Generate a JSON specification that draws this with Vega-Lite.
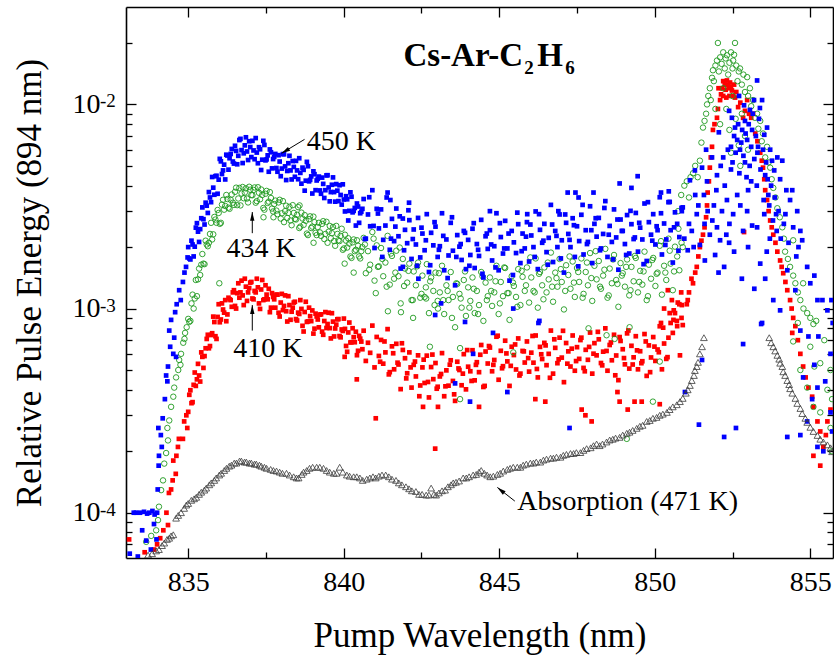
{
"$schema": "https://vega.github.io/schema/vega-lite/v6.json",
"width": 707, "height": 551,
"autosize": {"type": "none"},
"padding": {"left": 126, "top": 7, "right": 1, "bottom": 97},
"background": "white",
"config": {"view": {"stroke": null}, "font": "Liberation Serif",
 "axis": {"grid": false, "domainColor": "black", "tickColor": "black", "labelColor": "black", "titleColor": "black", "labelFont": "Liberation Serif", "titleFont": "Liberation Serif", "labelFontSize": 28, "titleFontSize": 35, "titleFontWeight": "normal", "tickWidth": 1.3, "domainWidth": 1.6, "labelFlush": false, "labelOverlap": false}},
"resolve": {"axis": {"x": "independent", "y": "independent"}},
"datasets": {
"blue": [{"x":833.12,"y":6.3e-5},{"x":833.25,"y":1.0e-4},{"x":833.32,"y":1.0e-4},{"x":833.38,"y":6.1e-5},{"x":833.45,"y":1.0e-4},{"x":833.52,"y":8.2e-5},{"x":833.58,"y":1.01e-4},{"x":833.65,"y":7.3e-5},{"x":833.68,"y":9.9e-5},{"x":833.75,"y":1.0e-4},{"x":833.8,"y":6.6e-5},{"x":833.85,"y":1.02e-4},{"x":833.92,"y":9.8e-5},{"x":833.98,"y":7.4e-5},{"x":834.0,"y":1.0e-4},{"x":833.9,"y":8.8e-5},
{"x":834.02,"y":1.3e-4},{"x":834.05,"y":1.7e-4},{"x":834.06,"y":1.9e-4},{"x":834.04,"y":2.6e-4},{"x":834.12,"y":2.4e-4},{"x":834.15,"y":2.1e-4},{"x":834.18,"y":2.9e-4},{"x":834.25,"y":3.6e-4},{"x":834.29,"y":4.7e-4},{"x":834.33,"y":4.4e-4},{"x":834.35,"y":5.2e-4},{"x":834.39,"y":7.8e-4},{"x":834.42,"y":6.5e-4},{"x":834.45,"y":8.8e-4},{"x":834.52,"y":6.0e-4},{"x":834.55,"y":7.2e-4},{"x":834.61,"y":5.8e-4},{"x":834.58,"y":9.6e-4},{"x":834.63,"y":1.05e-3},{"x":834.71,"y":1.23e-3},{"x":834.76,"y":1.1e-3},{"x":834.83,"y":1.35e-3},{"x":834.88,"y":1.5e-3},{"x":834.93,"y":1.6e-3},{"x":834.98,"y":1.78e-3},
{"x":835.0,"y":2.0e-3},{"x":835.07,"y":1.74e-3},{"x":835.14,"y":2.06e-3},{"x":835.21,"y":2.01e-3},{"x":835.28,"y":2.62e-3},{"x":835.35,"y":2.12e-3},{"x":835.42,"y":2.77e-3},{"x":835.49,"y":2.74e-3},{"x":835.56,"y":3.3e-3},{"x":835.63,"y":2.94e-3},{"x":835.7,"y":3.5e-3},{"x":835.77,"y":4.41e-3},{"x":835.84,"y":3.61e-3},{"x":835.91,"y":4.47e-3},{"x":835.98,"y":4.28e-3},{"x":836.05,"y":5.26e-3},{"x":836.12,"y":4.75e-3},{"x":836.19,"y":4.29e-3},{"x":836.26,"y":5.62e-3},{"x":836.33,"y":5.45e-3},{"x":836.4,"y":6.05e-3},{"x":836.47,"y":5.13e-3},{"x":836.54,"y":5.92e-3},{"x":836.61,"y":5.6e-3},{"x":836.68,"y":6.78e-3},{"x":836.75,"y":5.16e-3},{"x":836.82,"y":6.3e-3},{"x":836.89,"y":5.88e-3},{"x":836.96,"y":6.6e-3},{"x":837.03,"y":5.52e-3},{"x":837.1,"y":5.95e-3},{"x":837.17,"y":6.84e-3},{"x":837.24,"y":5.15e-3},{"x":837.31,"y":6.03e-3},{"x":837.38,"y":5.36e-3},{"x":837.45,"y":6.33e-3},{"x":837.52,"y":5.38e-3},{"x":837.59,"y":4.68e-3},{"x":837.66,"y":5.83e-3},{"x":837.73,"y":5.4e-3},{"x":837.8,"y":5.72e-3},{"x":837.87,"y":4.68e-3},{"x":837.94,"y":5.25e-3},{"x":838.01,"y":4.85e-3},{"x":838.08,"y":5.7e-3},{"x":838.15,"y":4.26e-3},{"x":838.22,"y":5.15e-3},{"x":838.29,"y":4.75e-3},{"x":838.36,"y":5.28e-3},{"x":838.43,"y":4.42e-3},{"x":838.5,"y":4.75e-3},{"x":838.57,"y":5.45e-3},{"x":838.64,"y":4.09e-3},{"x":838.71,"y":4.78e-3},{"x":838.78,"y":4.23e-3},{"x":838.85,"y":4.98e-3},{"x":838.92,"y":4.27e-3},{"x":838.99,"y":3.66e-3},{"x":839.06,"y":4.55e-3},{"x":839.13,"y":4.24e-3},{"x":839.2,"y":4.43e-3},{"x":839.27,"y":3.65e-3},{"x":839.34,"y":4.08e-3},{"x":839.41,"y":3.8e-3},{"x":839.48,"y":4.5e-3},{"x":839.55,"y":3.35e-3},{"x":839.62,"y":4.04e-3},{"x":839.69,"y":3.72e-3},{"x":839.76,"y":4.07e-3},{"x":839.83,"y":3.36e-3},{"x":839.9,"y":3.6e-3},{"x":839.97,"y":4.06e-3},{"x":840.04,"y":2.99e-3},{"x":840.11,"y":3.43e-3},{"x":840.18,"y":3.01e-3},{"x":840.25,"y":3.53e-3},{"x":840.32,"y":3.01e-3},{"x":840.39,"y":2.55e-3},{"x":840.46,"y":3.16e-3},{"x":840.53,"y":2.93e-3},{"x":840.6,"y":3.08e-3},
{"x":835.035,"y":1.76e-3},{"x":835.105,"y":2.15e-3},{"x":835.175,"y":1.8e-3},{"x":835.245,"y":2.49e-3},{"x":835.315,"y":2.38e-3},{"x":835.385,"y":2.45e-3},{"x":835.455,"y":3.13e-3},{"x":835.525,"y":2.58e-3},{"x":835.595,"y":3.19e-3},{"x":835.665,"y":3.72e-3},{"x":835.735,"y":3.32e-3},{"x":835.805,"y":3.91e-3},{"x":835.875,"y":4.45e-3},{"x":835.945,"y":3.65e-3},{"x":836.015,"y":5.41e-3},{"x":836.085,"y":4.56e-3},{"x":836.155,"y":5.07e-3},{"x":836.225,"y":5.67e-3},{"x":836.295,"y":4.79e-3},{"x":836.365,"y":5.72e-3},{"x":836.435,"y":5.25e-3},{"x":836.505,"y":6.27e-3},{"x":836.575,"y":5.09e-3},{"x":836.645,"y":6.69e-3},{"x":836.715,"y":5.97e-3},{"x":836.785,"y":5.76e-3},{"x":836.855,"y":6.9e-3},{"x":836.925,"y":5.34e-3},{"x":836.995,"y":6.18e-3},{"x":837.065,"y":6.63e-3},{"x":837.135,"y":5.39e-3},{"x":837.205,"y":5.81e-3},{"x":837.275,"y":6.17e-3},{"x":837.345,"y":4.77e-3},{"x":837.415,"y":6.63e-3},{"x":837.485,"y":5.32e-3},{"x":837.555,"y":5.63e-3},{"x":837.625,"y":6.02e-3},{"x":837.695,"y":4.86e-3},{"x":837.765,"y":5.53e-3},{"x":837.835,"y":4.88e-3},{"x":837.905,"y":5.64e-3},{"x":837.975,"y":4.45e-3},{"x":838.045,"y":5.71e-3},{"x":838.115,"y":4.97e-3},{"x":838.185,"y":4.72e-3},{"x":838.255,"y":5.6e-3},{"x":838.325,"y":4.29e-3},{"x":838.395,"y":4.94e-3},{"x":838.465,"y":5.29e-3},{"x":838.535,"y":4.3e-3},{"x":838.605,"y":4.62e-3},{"x":838.675,"y":4.9e-3},{"x":838.745,"y":3.78e-3},{"x":838.815,"y":5.23e-3},{"x":838.885,"y":4.2e-3},{"x":838.955,"y":4.44e-3},{"x":839.025,"y":4.7e-3},{"x":839.095,"y":3.8e-3},{"x":839.165,"y":4.32e-3},{"x":839.235,"y":3.79e-3},{"x":839.305,"y":4.38e-3},{"x":839.375,"y":3.48e-3},{"x":839.445,"y":4.49e-3},{"x":839.515,"y":3.92e-3},{"x":839.585,"y":3.72e-3},{"x":839.655,"y":4.39e-3},{"x":839.725,"y":3.34e-3},{"x":839.795,"y":3.78e-3},{"x":839.865,"y":4.02e-3},{"x":839.935,"y":3.23e-3},{"x":840.005,"y":3.42e-3},{"x":840.075,"y":3.55e-3},{"x":840.145,"y":2.7e-3},{"x":840.215,"y":3.71e-3},{"x":840.285,"y":2.96e-3},{"x":840.355,"y":3.11e-3},{"x":840.425,"y":3.27e-3},{"x":840.495,"y":2.63e-3},{"x":840.565,"y":2.98e-3},
{"x":840.64,"y":3.44e-3},{"x":840.71,"y":2.2e-3},{"x":840.78,"y":2.89e-3},{"x":840.85,"y":2.53e-3},{"x":840.92,"y":3.8e-3},{"x":840.99,"y":1.98e-3},{"x":841.06,"y":3.08e-3},
{"x":841.13,"y":2.47e-3},{"x":841.2,"y":3.06e-3},{"x":841.27,"y":2.17e-3},{"x":841.34,"y":2.55e-3},{"x":841.41,"y":3.7e-3},{"x":841.48,"y":1.94e-3},{"x":841.55,"y":2.75e-3},
{"x":841.62,"y":2.14e-3},{"x":841.69,"y":3.09e-3},{"x":841.76,"y":2.26e-3},{"x":841.83,"y":1.57e-3},{"x":841.9,"y":2.76e-3},{"x":841.97,"y":2.43e-3},{"x":842.04,"y":2.09e-3},
{"x":842.11,"y":2.71e-3},{"x":842.18,"y":1.75e-3},{"x":842.25,"y":2.44e-3},{"x":842.32,"y":2.06e-3},{"x":842.39,"y":2.78e-3},{"x":842.46,"y":1.78e-3},{"x":842.53,"y":2.33e-3},
{"x":842.6,"y":1.93e-3},{"x":842.67,"y":2.9e-3},{"x":842.74,"y":1.51e-3},{"x":842.81,"y":2.35e-3},{"x":842.88,"y":2.04e-3},{"x":842.95,"y":2.52e-3},{"x":843.02,"y":1.79e-3},
{"x":843.09,"y":2.02e-3},{"x":843.16,"y":2.93e-3},{"x":843.23,"y":1.54e-3},{"x":843.3,"y":2.18e-3},{"x":843.37,"y":1.82e-3},{"x":843.44,"y":2.63e-3},{"x":843.51,"y":1.92e-3},
{"x":843.58,"y":1.3e-3},{"x":843.65,"y":2.29e-3},{"x":843.72,"y":2.01e-3},{"x":843.79,"y":1.73e-3},{"x":843.86,"y":2.4e-3},{"x":843.93,"y":1.56e-3},{"x":844.0,"y":2.17e-3},
{"x":844.07,"y":1.83e-3},{"x":844.14,"y":2.46e-3},{"x":844.21,"y":1.58e-3},{"x":844.28,"y":2.07e-3},{"x":844.35,"y":1.81e-3},{"x":844.42,"y":2.72e-3},{"x":844.49,"y":1.42e-3},
{"x":844.56,"y":2.26e-3},{"x":844.63,"y":1.96e-3},{"x":844.7,"y":2.42e-3},{"x":844.77,"y":1.72e-3},{"x":844.84,"y":2.02e-3},{"x":844.91,"y":2.93e-3},{"x":844.98,"y":1.54e-3},
{"x":845.05,"y":2.24e-3},{"x":845.12,"y":1.86e-3},{"x":845.19,"y":2.69e-3},{"x":845.26,"y":1.97e-3},{"x":845.33,"y":1.37e-3},{"x":845.4,"y":2.4e-3},{"x":845.47,"y":2.11e-3},
{"x":845.54,"y":1.87e-3},{"x":845.61,"y":2.59e-3},{"x":845.68,"y":1.67e-3},{"x":845.75,"y":2.33e-3},{"x":845.82,"y":1.97e-3},{"x":845.89,"y":2.65e-3},{"x":845.96,"y":1.7e-3},
{"x":846.03,"y":2.28e-3},{"x":846.1,"y":2.0e-3},{"x":846.17,"y":2.99e-3},{"x":846.24,"y":1.56e-3},{"x":846.31,"y":2.43e-3},{"x":846.38,"y":2.1e-3},{"x":846.45,"y":2.6e-3},
{"x":846.52,"y":1.89e-3},{"x":846.59,"y":2.22e-3},{"x":846.66,"y":3.22e-3},{"x":846.73,"y":1.69e-3},{"x":846.8,"y":2.4e-3},{"x":846.87,"y":2.0e-3},{"x":846.94,"y":2.89e-3},
{"x":847.01,"y":2.16e-3},{"x":847.08,"y":1.5e-3},{"x":847.15,"y":2.63e-3},{"x":847.22,"y":2.32e-3},{"x":847.29,"y":2.0e-3},{"x":847.36,"y":2.77e-3},{"x":847.43,"y":1.79e-3},
{"x":847.5,"y":2.53e-3},{"x":847.57,"y":2.14e-3},{"x":847.64,"y":2.88e-3},{"x":847.71,"y":1.84e-3},{"x":847.78,"y":2.42e-3},{"x":847.85,"y":2.12e-3},{"x":847.92,"y":3.17e-3},
{"x":847.99,"y":1.67e-3},{"x":848.06,"y":2.6e-3},{"x":848.13,"y":2.25e-3},{"x":848.2,"y":2.78e-3},{"x":848.27,"y":1.97e-3},{"x":848.34,"y":2.32e-3},{"x":848.41,"y":3.36e-3},
{"x":848.48,"y":1.79e-3},{"x":848.55,"y":2.54e-3},{"x":848.62,"y":2.12e-3},{"x":848.69,"y":3.06e-3},{"x":848.76,"y":2.23e-3},{"x":848.83,"y":1.55e-3},{"x":848.9,"y":2.73e-3},
{"x":848.97,"y":2.4e-3},{"x":849.04,"y":2.07e-3},{"x":849.11,"y":2.87e-3},{"x":849.18,"y":1.86e-3},{"x":849.25,"y":2.59e-3},{"x":849.32,"y":2.19e-3},{"x":849.39,"y":2.94e-3},
{"x":849.46,"y":1.9e-3},{"x":849.53,"y":2.49e-3},{"x":849.6,"y":2.18e-3},{"x":849.67,"y":3.27e-3},{"x":849.74,"y":1.71e-3},{"x":849.81,"y":2.65e-3},{"x":849.88,"y":2.3e-3},
{"x":849.95,"y":2.9e-3},{"x":850.02,"y":2.06e-3},{"x":850.09,"y":2.42e-3},{"x":850.16,"y":3.51e-3},{"x":850.23,"y":1.84e-3},{"x":850.3,"y":2.61e-3},{"x":850.37,"y":2.18e-3},
{"x":850.44,"y":3.32e-3},{"x":850.51,"y":2.42e-3},{"x":850.58,"y":1.68e-3},{"x":850.65,"y":2.96e-3},{"x":850.72,"y":2.6e-3},{"x":850.79,"y":2.24e-3},{"x":850.86,"y":3.11e-3},
{"x":840.68,"y":2.19e-3},{"x":840.82,"y":3.51e-3},{"x":840.96,"y":2.54e-3},{"x":841.1,"y":2.92e-3},{"x":841.24,"y":1.79e-3},{"x":841.38,"y":3.5e-3},{"x":841.52,"y":2.2e-3},{"x":841.66,"y":2.52e-3},{"x":841.8,"y":2.83e-3},{"x":841.94,"y":1.93e-3},{"x":842.08,"y":3.03e-3},{"x":842.22,"y":2.19e-3},{"x":842.36,"y":1.62e-3},{"x":842.5,"y":2.49e-3},{"x":842.64,"y":2.16e-3},{"x":842.78,"y":1.63e-3},{"x":842.92,"y":2.65e-3},{"x":843.06,"y":1.94e-3},{"x":843.2,"y":2.27e-3},{"x":843.34,"y":1.41e-3},{"x":843.48,"y":2.8e-3},{"x":843.62,"y":1.79e-3},{"x":843.76,"y":2.07e-3},{"x":843.9,"y":2.35e-3},{"x":844.04,"y":1.62e-3},{"x":844.18,"y":2.62e-3},{"x":844.32,"y":1.94e-3},{"x":844.46,"y":1.48e-3},{"x":844.6,"y":2.33e-3},{"x":844.74,"y":2.06e-3},{"x":844.88,"y":1.59e-3},{"x":845.02,"y":2.62e-3},{"x":845.16,"y":1.97e-3},{"x":845.3,"y":2.33e-3},{"x":845.44,"y":1.46e-3},{"x":845.58,"y":2.95e-3},{"x":845.72,"y":1.91e-3},{"x":845.86,"y":2.25e-3},{"x":846.0,"y":2.58e-3},{"x":846.14,"y":1.79e-3},{"x":846.28,"y":2.9e-3},{"x":846.42,"y":2.15e-3},{"x":846.56,"y":1.64e-3},{"x":846.7,"y":2.58e-3},{"x":846.84,"y":2.27e-3},{"x":846.98,"y":1.76e-3},{"x":847.12,"y":2.89e-3},{"x":847.26,"y":2.17e-3},{"x":847.4,"y":2.56e-3},{"x":847.54,"y":1.61e-3},{"x":847.68,"y":3.22e-3},{"x":847.82,"y":2.07e-3},{"x":847.96,"y":2.42e-3},{"x":848.1,"y":2.77e-3},{"x":848.24,"y":1.93e-3},{"x":848.38,"y":3.11e-3},{"x":848.52,"y":2.3e-3},{"x":848.66,"y":1.74e-3},{"x":848.8,"y":2.73e-3},{"x":848.94,"y":2.4e-3},{"x":849.08,"y":1.83e-3},{"x":849.22,"y":3.01e-3},{"x":849.36,"y":2.23e-3},{"x":849.5,"y":2.63e-3},{"x":849.64,"y":1.65e-3},{"x":849.78,"y":3.32e-3},{"x":849.92,"y":2.15e-3},{"x":850.06,"y":2.53e-3},{"x":850.2,"y":2.93e-3},{"x":850.34,"y":2.05e-3},{"x":850.48,"y":3.33e-3},{"x":850.62,"y":2.5e-3},{"x":850.76,"y":1.92e-3},{"x":850.9,"y":3.13e-3},
{"x":842.94,"y":9.3e-4},{"x":843.13,"y":1.06e-3},{"x":843.9,"y":8.6e-4},{"x":845.45,"y":1.0e-3},{"x":846.26,"y":8.5e-4},{"x":844.8,"y":7.6e-4},{"x":844.16,"y":6.0e-4},{"x":843.58,"y":4.3e-4},{"x":844.06,"y":3.5e-4},{"x":845.26,"y":3.9e-4},{"x":847.26,"y":2.6e-4},{"x":846.29,"y":8.7e-4},{"x":848.03,"y":3.7e-3},{"x":847.55,"y":3.5e-3},{"x":845.9,"y":2.9e-3},{"x":844.7,"y":3.0e-3},{"x":846.9,"y":3.0e-3},{"x":849.45,"y":4.45e-3},{"x":848.87,"y":4.1e-3},{"x":849.25,"y":3.9e-3},{"x":850.2,"y":3.7e-3},{"x":850.45,"y":3.75e-3},{"x":847.2,"y":3.7e-3},{"x":847.45,"y":3.7e-3},{"x":842.1,"y":3.3e-3},{"x":841.5,"y":3.4e-3},{"x":841.9,"y":1.6e-3},{"x":842.4,"y":1.4e-3},
{"x":851.52,"y":4.9e-3},{"x":851.84,"y":5.5e-3},{"x":851.68,"y":4.2e-3},{"x":851.58,"y":3.6e-3},{"x":851.9,"y":3.2e-3},{"x":852.0,"y":2.5e-3},{"x":852.16,"y":3.0e-3},{"x":852.32,"y":3.4e-3},{"x":852.48,"y":8.6e-3},{"x":852.58,"y":7.7e-3},{"x":852.65,"y":6.7e-3},{"x":852.74,"y":6.0e-3},{"x":852.81,"y":7.5e-3},{"x":852.9,"y":8.3e-3},{"x":852.97,"y":6.7e-3},{"x":853.06,"y":9.4e-3},{"x":853.13,"y":7.5e-3},{"x":853.19,"y":1.05e-2},{"x":853.29,"y":1.31e-2},{"x":853.35,"y":8.5e-3},{"x":853.45,"y":1.05e-2},{"x":853.52,"y":7.1e-3},{"x":853.61,"y":7.7e-3},{"x":853.71,"y":6.0e-3},{"x":853.77,"y":5.3e-3},{"x":853.84,"y":4.75e-3},{"x":853.94,"y":5.5e-3},{"x":854.03,"y":4.3e-3},{"x":854.1,"y":5.3e-3},{"x":854.23,"y":3.8e-3},{"x":854.35,"y":3.4e-3},{"x":854.42,"y":3.8e-3},{"x":854.58,"y":3.0e-3},{"x":854.68,"y":2.4e-3},{"x":854.74,"y":2.16e-3},{"x":854.9,"y":1.6e-3},{"x":855.0,"y":1.33e-3},{"x":855.13,"y":1.45e-3},{"x":855.23,"y":1.1e-3},{"x":855.39,"y":1.1e-3},{"x":855.55,"y":9.8e-4},{"x":855.68,"y":1.1e-3},{"x":855.72,"y":8.5e-4},
{"x":851.19,"y":2.4e-3},{"x":851.35,"y":2.9e-3},{"x":851.45,"y":2.05e-3},{"x":851.61,"y":1.72e-3},{"x":851.77,"y":2.3e-3},{"x":851.94,"y":1.83e-3},{"x":852.1,"y":2.16e-3},{"x":852.23,"y":1.6e-3},{"x":852.39,"y":2.1e-3},{"x":852.52,"y":2.9e-3},{"x":852.65,"y":3.6e-3},{"x":852.84,"y":2.4e-3},{"x":852.97,"y":3.0e-3},{"x":853.13,"y":2.55e-3},{"x":853.29,"y":2.5e-3},{"x":853.39,"y":1.66e-3},{"x":853.52,"y":2.9e-3},{"x":853.65,"y":3.6e-3},{"x":853.81,"y":1.1e-3},{"x":854.03,"y":9.8e-4},{"x":853.45,"y":8.5e-4},{"x":854.26,"y":1.54e-3},{"x":854.52,"y":1.23e-3},{"x":852.84,"y":6.7e-4},{"x":853.42,"y":8.4e-4},{"x":852.23,"y":2.35e-4},{"x":852.61,"y":2.6e-4},{"x":851.52,"y":5.6e-4},{"x":850.97,"y":3.9e-4},{"x":851.42,"y":2.7e-4},{"x":854.26,"y":2.35e-4},{"x":854.68,"y":2.4e-4},{"x":851.06,"y":1.93e-3},{"x":850.87,"y":3.0e-3},{"x":851.13,"y":4.25e-3},{"x":851.29,"y":4.75e-3},{"x":851.65,"y":6.0e-3},{"x":852.06,"y":7.3e-3},{"x":852.39,"y":9.3e-3},{"x":852.71,"y":1.1e-2},{"x":852.87,"y":9.9e-3},
{"x":852.0,"y":4.5e-3},{"x":852.2,"y":5.5e-3},{"x":852.45,"y":4.8e-3},{"x":852.9,"y":5.2e-3},{"x":853.1,"y":4.2e-3},{"x":853.3,"y":5.8e-3},{"x":853.55,"y":4.5e-3},{"x":853.0,"y":3.8e-3},{"x":852.55,"y":1.9e-3},{"x":853.7,"y":2.2e-3},{"x":853.9,"y":2.9e-3},{"x":854.15,"y":2.6e-3},{"x":851.85,"y":2.7e-3},{"x":851.3,"y":3.6e-3},
{"x":852.45,"y":6.2e-3},{"x":852.5,"y":5.2e-3},{"x":852.55,"y":7.0e-3},{"x":852.6,"y":5.8e-3},{"x":852.68,"y":8.0e-3},{"x":852.72,"y":4.6e-3},{"x":852.78,"y":6.5e-3},{"x":852.85,"y":5.6e-3},{"x":852.92,"y":7.2e-3},{"x":852.95,"y":4.4e-3},{"x":853.02,"y":8.0e-3},{"x":853.05,"y":5.0e-3},{"x":853.1,"y":6.2e-3},{"x":853.15,"y":9.0e-3},{"x":853.2,"y":5.4e-3},{"x":853.25,"y":7.0e-3},{"x":853.28,"y":4.0e-3},{"x":853.32,"y":6.2e-3},{"x":853.38,"y":9.6e-3},{"x":853.4,"y":4.8e-3},{"x":853.48,"y":6.0e-3},{"x":853.5,"y":3.4e-3},{"x":853.58,"y":5.2e-3},{"x":853.63,"y":4.3e-3},{"x":853.68,"y":3.2e-3},{"x":853.74,"y":4.0e-3},{"x":853.8,"y":2.7e-3},{"x":853.86,"y":3.5e-3},{"x":853.92,"y":2.4e-3},{"x":853.98,"y":3.0e-3},{"x":854.05,"y":2.2e-3},{"x":854.2,"y":2.9e-3},{"x":854.3,"y":2.1e-3},{"x":854.45,"y":2.5e-3},{"x":854.55,"y":1.8e-3},{"x":854.62,"y":2.0e-3},{"x":852.25,"y":4.0e-3},{"x":852.35,"y":6.0e-3},{"x":852.12,"y":5.0e-3},{"x":851.98,"y":3.8e-3},{"x":852.4,"y":2.6e-3},{"x":852.75,"y":3.2e-3},{"x":853.0,"y":2.0e-3},{"x":853.6,"y":1.9e-3},{"x":852.3,"y":2.3e-3},{"x":851.7,"y":3.0e-3},{"x":851.6,"y":2.6e-3},{"x":851.4,"y":3.2e-3},{"x":851.25,"y":2.0e-3},{"x":851.1,"y":2.6e-3},{"x":850.95,"y":2.2e-3},{"x":852.05,"y":1.5e-3},{"x":852.8,"y":1.4e-3},{"x":853.2,"y":1.25e-3},{"x":853.55,"y":1.4e-3},
{"x":854.68,"y":7.8e-4},{"x":854.94,"y":7.3e-4},{"x":855.26,"y":7.3e-4},{"x":855.65,"y":6.0e-4},{"x":854.77,"y":4.6e-4},{"x":855.23,"y":4.1e-4},{"x":855.65,"y":3.1e-4},{"x":855.23,"y":2.1e-4},{"x":855.42,"y":2.0e-4},{"x":855.06,"y":3.6e-4},{"x":855.48,"y":4.4e-4},{"x":855.7,"y":2.5e-4},{"x":854.9,"y":2.8e-4},{"x":855.13,"y":5.3e-4}],
"red": [{"x":833.1,"y":7.4e-5},{"x":833.6,"y":6.4e-5},{"x":833.9,"y":6.6e-5},{"x":834.0,"y":7.0e-5},{"x":834.1,"y":7.5e-5},{"x":834.2,"y":8.2e-5},{"x":834.35,"y":8.7e-5},{"x":834.3,"y":1.0e-4},{"x":834.38,"y":1.25e-4},{"x":834.45,"y":1.3e-4},{"x":834.5,"y":1.44e-4},{"x":834.6,"y":1.55e-4},{"x":834.52,"y":1.8e-4},{"x":834.62,"y":1.9e-4},{"x":834.67,"y":2.1e-4},{"x":834.7,"y":2.3e-4},{"x":834.83,"y":2.3e-4},{"x":834.87,"y":2.8e-4},{"x":834.94,"y":3.0e-4},{"x":834.97,"y":2.6e-4},
{"x":835.0,"y":3.12e-4},{"x":835.07,"y":3.98e-4},{"x":835.14,"y":3.48e-4},{"x":835.21,"y":4.86e-4},{"x":835.28,"y":4.5e-4},{"x":835.35,"y":4.7e-4},{"x":835.42,"y":6.1e-4},{"x":835.49,"y":5.12e-4},{"x":835.56,"y":6.39e-4},{"x":835.63,"y":7.44e-4},{"x":835.7,"y":6.55e-4},{"x":835.77,"y":7.57e-4},{"x":835.84,"y":8.59e-4},{"x":835.91,"y":7.1e-4},{"x":835.98,"y":1.05e-3},{"x":836.05,"y":8.84e-4},{"x":836.12,"y":9.89e-4},{"x":836.19,"y":1.1e-3},{"x":836.26,"y":9.36e-4},{"x":836.33,"y":1.11e-3},{"x":836.4,"y":1.02e-3},{"x":836.47,"y":1.23e-3},{"x":836.54,"y":1.0e-3},{"x":836.61,"y":1.33e-3},{"x":836.68,"y":1.2e-3},{"x":836.75,"y":1.16e-3},{"x":836.82,"y":1.4e-3},{"x":836.89,"y":1.09e-3},{"x":836.96,"y":1.26e-3},{"x":837.03,"y":1.35e-3},{"x":837.1,"y":1.11e-3},{"x":837.17,"y":1.2e-3},{"x":837.24,"y":1.27e-3},{"x":837.31,"y":9.96e-4},{"x":837.38,"y":1.38e-3},{"x":837.45,"y":1.11e-3},{"x":837.52,"y":1.17e-3},{"x":837.59,"y":1.25e-3},{"x":837.66,"y":1.01e-3},{"x":837.73,"y":1.14e-3},{"x":837.8,"y":1.01e-3},{"x":837.87,"y":1.17e-3},{"x":837.94,"y":9.14e-4},{"x":838.01,"y":1.18e-3},{"x":838.08,"y":1.03e-3},{"x":838.15,"y":9.7e-4},{"x":838.22,"y":1.15e-3},{"x":838.29,"y":8.81e-4},{"x":838.36,"y":1.01e-3},{"x":838.43,"y":1.08e-3},{"x":838.5,"y":8.74e-4},{"x":838.57,"y":9.41e-4},{"x":838.64,"y":9.96e-4},{"x":838.71,"y":7.72e-4},{"x":838.78,"y":1.08e-3},{"x":838.85,"y":8.65e-4},{"x":838.92,"y":9.18e-4},{"x":838.99,"y":9.79e-4},{"x":839.06,"y":7.97e-4},{"x":839.13,"y":9.15e-4},{"x":839.2,"y":8.09e-4},{"x":839.27,"y":9.37e-4},{"x":839.34,"y":7.44e-4},{"x":839.41,"y":9.61e-4},{"x":839.48,"y":8.4e-4},{"x":839.55,"y":8.02e-4},{"x":839.62,"y":9.49e-4},{"x":839.69,"y":7.3e-4},{"x":839.76,"y":8.34e-4},{"x":839.83,"y":8.88e-4},{"x":839.9,"y":7.23e-4},{"x":839.97,"y":7.77e-4},{"x":840.04,"y":7.95e-4},{"x":840.11,"y":6.14e-4},{"x":840.18,"y":8.54e-4},{"x":840.25,"y":6.84e-4},{"x":840.32,"y":7.24e-4},{"x":840.39,"y":7.7e-4},{"x":840.46,"y":6.21e-4},{"x":840.53,"y":7.12e-4},{"x":840.6,"y":6.32e-4},
{"x":835.035,"y":3.78e-4},{"x":835.105,"y":3.44e-4},{"x":835.175,"y":4.23e-4},{"x":835.245,"y":4.18e-4},{"x":835.315,"y":5.36e-4},{"x":835.385,"y":4.39e-4},{"x":835.455,"y":5.8e-4},{"x":835.525,"y":5.85e-4},{"x":835.595,"y":7.1e-4},{"x":835.665,"y":6.39e-4},{"x":835.735,"y":7.42e-4},{"x":835.805,"y":9.13e-4},{"x":835.875,"y":7.32e-4},{"x":835.945,"y":9.1e-4},{"x":836.015,"y":8.57e-4},{"x":836.085,"y":1.06e-3},{"x":836.155,"y":9.55e-4},{"x":836.225,"y":8.67e-4},{"x":836.295,"y":1.13e-3},{"x":836.365,"y":1.1e-3},{"x":836.435,"y":1.2e-3},{"x":836.505,"y":1.03e-3},{"x":836.575,"y":1.19e-3},{"x":836.645,"y":1.13e-3},{"x":836.715,"y":1.37e-3},{"x":836.785,"y":1.04e-3},{"x":836.855,"y":1.28e-3},{"x":836.925,"y":1.2e-3},{"x":836.995,"y":1.34e-3},{"x":837.065,"y":1.12e-3},{"x":837.135,"y":1.22e-3},{"x":837.205,"y":1.4e-3},{"x":837.275,"y":1.06e-3},{"x":837.345,"y":1.24e-3},{"x":837.415,"y":1.1e-3},{"x":837.485,"y":1.3e-3},{"x":837.555,"y":1.11e-3},{"x":837.625,"y":9.6e-4},{"x":837.695,"y":1.19e-3},{"x":837.765,"y":1.11e-3},{"x":837.835,"y":1.17e-3},{"x":837.905,"y":9.54e-4},{"x":837.975,"y":1.07e-3},{"x":838.045,"y":9.83e-4},{"x":838.115,"y":1.16e-3},{"x":838.185,"y":8.64e-4},{"x":838.255,"y":1.04e-3},{"x":838.325,"y":9.65e-4},{"x":838.395,"y":1.07e-3},{"x":838.465,"y":8.88e-4},{"x":838.535,"y":9.55e-4},{"x":838.605,"y":1.1e-3},{"x":838.675,"y":8.23e-4},{"x":838.745,"y":9.62e-4},{"x":838.815,"y":8.6e-4},{"x":838.885,"y":1.01e-3},{"x":838.955,"y":8.68e-4},{"x":839.025,"y":7.54e-4},{"x":839.095,"y":9.44e-4},{"x":839.165,"y":8.84e-4},{"x":839.235,"y":9.34e-4},{"x":839.305,"y":7.71e-4},{"x":839.375,"y":8.69e-4},{"x":839.445,"y":8.03e-4},{"x":839.515,"y":9.54e-4},{"x":839.585,"y":7.14e-4},{"x":839.655,"y":8.63e-4},{"x":839.725,"y":7.99e-4},{"x":839.795,"y":8.86e-4},{"x":839.865,"y":7.33e-4},{"x":839.935,"y":7.9e-4},{"x":840.005,"y":8.93e-4},{"x":840.075,"y":6.56e-4},{"x":840.145,"y":7.64e-4},{"x":840.215,"y":6.82e-4},{"x":840.285,"y":8.01e-4},{"x":840.355,"y":6.84e-4},{"x":840.425,"y":5.91e-4},{"x":840.495,"y":7.35e-4},{"x":840.565,"y":6.89e-4},
{"x":840.64,"y":7.79e-4},{"x":840.71,"y":5.54e-4},{"x":840.78,"y":6.8e-4},{"x":840.85,"y":6.07e-4},{"x":840.92,"y":8.25e-4},{"x":840.99,"y":5.15e-4},{"x":841.06,"y":7.26e-4},
{"x":841.13,"y":5.86e-4},{"x":841.2,"y":7.02e-4},{"x":841.27,"y":5.37e-4},{"x":841.34,"y":6.1e-4},{"x":841.41,"y":7.93e-4},{"x":841.48,"y":4.88e-4},{"x":841.55,"y":6.53e-4},
{"x":841.62,"y":5.04e-4},{"x":841.69,"y":6.72e-4},{"x":841.76,"y":5.32e-4},{"x":841.83,"y":4.03e-4},{"x":841.9,"y":6.27e-4},{"x":841.97,"y":5.71e-4},{"x":842.04,"y":4.82e-4},
{"x":842.11,"y":6.1e-4},{"x":842.18,"y":4.1e-4},{"x":842.25,"y":5.3e-4},{"x":842.32,"y":4.65e-4},{"x":842.39,"y":5.9e-4},{"x":842.46,"y":4.2e-4},{"x":842.53,"y":5.15e-4},
{"x":842.6,"y":4.32e-4},{"x":842.67,"y":5.88e-4},{"x":842.74,"y":3.67e-4},{"x":842.81,"y":5.17e-4},{"x":842.88,"y":4.51e-4},{"x":842.95,"y":5.41e-4},{"x":843.02,"y":4.14e-4},
{"x":843.09,"y":4.65e-4},{"x":843.16,"y":6.05e-4},{"x":843.23,"y":3.72e-4},{"x":843.3,"y":4.98e-4},{"x":843.37,"y":4.19e-4},{"x":843.44,"y":5.58e-4},{"x":843.51,"y":4.42e-4},
{"x":843.58,"y":3.53e-4},{"x":843.65,"y":5.49e-4},{"x":843.72,"y":5.0e-4},{"x":843.79,"y":4.21e-4},{"x":843.86,"y":5.98e-4},{"x":843.93,"y":4.02e-4},{"x":844.0,"y":5.19e-4},
{"x":844.07,"y":4.93e-4},{"x":844.14,"y":6.25e-4},{"x":844.21,"y":4.45e-4},{"x":844.28,"y":5.46e-4},{"x":844.35,"y":4.88e-4},{"x":844.42,"y":6.63e-4},{"x":844.49,"y":4.13e-4},
{"x":844.56,"y":6.16e-4},{"x":844.63,"y":5.38e-4},{"x":844.7,"y":6.44e-4},{"x":844.77,"y":4.93e-4},{"x":844.84,"y":5.6e-4},{"x":844.91,"y":7.28e-4},{"x":844.98,"y":4.48e-4},
{"x":845.05,"y":6.21e-4},{"x":845.12,"y":5.22e-4},{"x":845.19,"y":6.96e-4},{"x":845.26,"y":5.51e-4},{"x":845.33,"y":4.18e-4},{"x":845.4,"y":6.5e-4},{"x":845.47,"y":5.92e-4},
{"x":845.54,"y":5.03e-4},{"x":845.61,"y":7.14e-4},{"x":845.68,"y":4.8e-4},{"x":845.75,"y":6.2e-4},{"x":845.82,"y":5.44e-4},{"x":845.89,"y":6.9e-4},{"x":845.96,"y":4.91e-4},
{"x":846.03,"y":6.08e-4},{"x":846.1,"y":5.43e-4},{"x":846.17,"y":7.38e-4},{"x":846.24,"y":4.6e-4},{"x":846.31,"y":6.49e-4},{"x":846.38,"y":5.66e-4},{"x":846.45,"y":6.79e-4},
{"x":846.52,"y":5.28e-4},{"x":846.59,"y":6.0e-4},{"x":846.66,"y":7.8e-4},{"x":846.73,"y":4.8e-4},{"x":846.8,"y":6.42e-4},{"x":846.87,"y":5.4e-4},{"x":846.94,"y":7.2e-4},
{"x":847.01,"y":5.75e-4},{"x":847.08,"y":4.36e-4},{"x":847.15,"y":6.78e-4},{"x":847.22,"y":6.17e-4},{"x":847.29,"y":5.2e-4},{"x":847.36,"y":7.38e-4},{"x":847.43,"y":4.96e-4},
{"x":847.5,"y":6.47e-4},{"x":847.57,"y":5.67e-4},{"x":847.64,"y":7.2e-4},{"x":847.71,"y":5.12e-4},{"x":847.78,"y":6.28e-4},{"x":847.85,"y":5.61e-4},{"x":847.92,"y":7.63e-4},
{"x":847.99,"y":4.8e-4},{"x":848.06,"y":6.77e-4},{"x":848.13,"y":5.9e-4},{"x":848.2,"y":7.07e-4},{"x":848.27,"y":5.41e-4},{"x":848.34,"y":6.15e-4},{"x":848.41,"y":8.0e-4},
{"x":848.48,"y":4.96e-4},{"x":848.55,"y":6.63e-4},{"x":848.62,"y":5.58e-4},{"x":848.69,"y":7.44e-4},{"x":848.76,"y":5.89e-4},{"x":848.83,"y":4.46e-4},{"x":848.9,"y":6.94e-4},
{"x":848.97,"y":6.32e-4},{"x":849.04,"y":5.33e-4},{"x":849.11,"y":7.56e-4},{"x":849.18,"y":5.08e-4},{"x":849.25,"y":6.57e-4},{"x":849.32,"y":5.77e-4},{"x":849.39,"y":7.32e-4},
{"x":849.46,"y":5.04e-4},{"x":849.53,"y":6.18e-4},{"x":849.6,"y":5.52e-4},{"x":849.67,"y":7.5e-4},{"x":849.74,"y":4.68e-4},{"x":849.81,"y":6.6e-4},{"x":849.88,"y":5.76e-4},
{"x":849.95,"y":7.25e-4},{"x":850.02,"y":5.54e-4},{"x":850.09,"y":6.3e-4},{"x":850.16,"y":8.19e-4},{"x":850.23,"y":5.04e-4},{"x":850.3,"y":6.74e-4},{"x":850.37,"y":5.67e-4},
{"x":841.17,"y":5.49e-4},{"x":841.31,"y":6.9e-4},{"x":841.45,"y":4.76e-4},{"x":841.59,"y":6.04e-4},{"x":841.73,"y":5.43e-4},{"x":841.87,"y":6.76e-4},{"x":842.01,"y":4.55e-4},{"x":842.15,"y":5.15e-4},{"x":842.29,"y":5.5e-4},{"x":842.43,"y":3.72e-4},{"x":842.57,"y":5.62e-4},{"x":842.71,"y":4.37e-4},{"x":842.85,"y":5.95e-4},{"x":842.99,"y":4.05e-4},{"x":843.13,"y":4.78e-4},{"x":843.27,"y":4.16e-4},{"x":843.41,"y":5.31e-4},{"x":843.55,"y":3.8e-4},{"x":843.69,"y":5.09e-4},{"x":843.83,"y":4.8e-4},{"x":843.97,"y":6.26e-4},{"x":844.11,"y":4.42e-4},{"x":844.25,"y":5.3e-4},{"x":844.39,"y":5.94e-4},{"x":844.53,"y":4.18e-4},{"x":844.67,"y":6.55e-4},{"x":844.81,"y":5.3e-4},{"x":844.95,"y":7.36e-4},{"x":845.09,"y":5.1e-4},{"x":845.23,"y":6.03e-4},{"x":845.37,"y":5.24e-4},{"x":845.51,"y":6.67e-4},{"x":845.65,"y":4.7e-4},{"x":845.79,"y":6.17e-4},{"x":845.93,"y":5.72e-4},{"x":846.07,"y":7.34e-4},{"x":846.21,"y":5.06e-4},{"x":846.35,"y":5.97e-4},{"x":846.49,"y":6.6e-4},{"x":846.63,"y":4.58e-4},{"x":846.77,"y":7.07e-4},{"x":846.91,"y":5.64e-4},{"x":847.05,"y":7.78e-4},{"x":847.19,"y":5.37e-4},{"x":847.33,"y":6.36e-4},{"x":847.47,"y":5.53e-4},{"x":847.61,"y":7.01e-4},{"x":847.75,"y":4.93e-4},{"x":847.89,"y":6.49e-4},{"x":848.03,"y":6.01e-4},{"x":848.17,"y":7.69e-4},{"x":848.31,"y":5.27e-4},{"x":848.45,"y":6.2e-4},{"x":848.59,"y":6.82e-4},{"x":848.73,"y":4.71e-4},{"x":848.87,"y":7.25e-4},{"x":849.01,"y":5.72e-4},{"x":849.15,"y":7.81e-4},{"x":849.29,"y":5.32e-4},{"x":849.43,"y":6.24e-4},{"x":849.57,"y":5.4e-4},{"x":849.71,"y":6.9e-4},{"x":849.85,"y":4.88e-4},{"x":849.99,"y":6.51e-4},{"x":850.13,"y":6.11e-4},{"x":850.27,"y":8.06e-4},{"x":850.41,"y":5.78e-4},
{"x":840.42,"y":4.5e-4},{"x":840.03,"y":5.8e-4},{"x":841.03,"y":2.9e-4},{"x":842.94,"y":2.06e-4},{"x":842.55,"y":3.3e-4},{"x":843.03,"y":3.3e-4},{"x":844.35,"y":3.3e-4},{"x":846.16,"y":3.6e-4},{"x":846.48,"y":3.5e-4},{"x":847.65,"y":3.2e-4},{"x":847.77,"y":3.0e-4},{"x":847.97,"y":2.8e-4},{"x":849.13,"y":3.2e-4},{"x":848.87,"y":3.5e-4},{"x":849.35,"y":3.5e-4},{"x":849.58,"y":3.5e-4},{"x":850.16,"y":3.4e-4},{"x":848.8,"y":3.9e-4},{"x":850.81,"y":5.9e-4},
{"x":850.44,"y":7.2e-4},{"x":850.51,"y":8.5e-4},{"x":850.58,"y":7.6e-4},{"x":850.65,"y":9.5e-4},{"x":850.72,"y":8.2e-4},{"x":850.79,"y":1.05e-3},{"x":850.86,"y":9.0e-4},{"x":850.42,"y":1.23e-3},{"x":850.55,"y":1.1e-3},{"x":850.61,"y":9.8e-4},{"x":850.71,"y":8.7e-4},{"x":850.87,"y":1.04e-3},{"x":850.9,"y":8.3e-4},{"x":851.06,"y":1.1e-3},{"x":850.3,"y":1.0e-3},{"x":850.2,"y":8.5e-4},
{"x":850.48,"y":9.5e-4},{"x":850.6,"y":8.8e-4},{"x":850.74,"y":1.07e-3},{"x":850.85,"y":1.2e-3},{"x":851.03,"y":1.05e-3},{"x":851.1,"y":1.2e-3},{"x":851.18,"y":1.4e-3},{"x":851.23,"y":1.33e-3},{"x":851.3,"y":1.5e-3},{"x":851.35,"y":1.6e-3},{"x":851.4,"y":1.8e-3},{"x":851.45,"y":2.0e-3},{"x":851.5,"y":2.15e-3},{"x":851.55,"y":2.3e-3},{"x":851.6,"y":2.5e-3},{"x":851.65,"y":2.8e-3},{"x":851.68,"y":3.2e-3},{"x":851.7,"y":3.7e-3},{"x":851.74,"y":4.2e-3},{"x":851.77,"y":4.9e-3},{"x":851.8,"y":5.5e-3},{"x":851.84,"y":6.2e-3},{"x":851.87,"y":7.5e-3},{"x":851.92,"y":8.0e-3},{"x":852.0,"y":8.6e-3},{"x":852.03,"y":9.5e-3},{"x":852.1,"y":1.05e-2},{"x":852.13,"y":1.12e-2},{"x":852.16,"y":1.2e-2},{"x":852.2,"y":1.1e-2},{"x":852.25,"y":1.25e-2},{"x":852.32,"y":1.31e-2},{"x":852.38,"y":1.2e-2},{"x":852.42,"y":1.28e-2},{"x":852.48,"y":1.17e-2},{"x":852.52,"y":1.1e-2},{"x":852.58,"y":1.08e-2},{"x":852.62,"y":1.15e-2},{"x":852.68,"y":9.7e-3},{"x":852.75,"y":1.02e-2},{"x":852.84,"y":8.6e-3},{"x":852.9,"y":9.3e-3},{"x":852.97,"y":1.05e-2},{"x":853.03,"y":9.0e-3},
{"x":852.05,"y":1.2e-2},{"x":852.2,"y":1.3e-2},{"x":852.28,"y":1.18e-2},{"x":852.35,"y":1.25e-2},{"x":852.45,"y":1.22e-2},{"x":852.55,"y":1.25e-2},{"x":852.3,"y":1.08e-2},{"x":852.4,"y":1.1e-2},
{"x":853.1,"y":8.6e-3},{"x":853.16,"y":9.0e-3},{"x":853.23,"y":7.2e-3},{"x":853.3,"y":6.6e-3},{"x":853.39,"y":5.8e-3},{"x":853.44,"y":5.3e-3},{"x":853.48,"y":4.9e-3},{"x":853.52,"y":4.3e-3},{"x":853.55,"y":3.8e-3},{"x":853.61,"y":3.4e-3},{"x":853.66,"y":3.0e-3},{"x":853.71,"y":2.7e-3},{"x":853.76,"y":2.5e-3},{"x":853.81,"y":2.3e-3},{"x":853.88,"y":2.1e-3},{"x":853.94,"y":1.9e-3},{"x":854.03,"y":1.72e-3},{"x":854.08,"y":1.6e-3},{"x":854.13,"y":1.49e-3},{"x":854.2,"y":1.35e-3},{"x":854.26,"y":1.23e-3},{"x":854.35,"y":1.1e-3},{"x":854.4,"y":1.0e-3},{"x":854.45,"y":9.0e-4},{"x":854.42,"y":7.6e-4},{"x":854.52,"y":8.2e-4},{"x":854.6,"y":7.0e-4},{"x":854.68,"y":6.0e-4},{"x":854.77,"y":5.2e-4},{"x":854.85,"y":4.6e-4},{"x":854.94,"y":4.1e-4},{"x":855.06,"y":3.7e-4},{"x":855.1,"y":3.3e-4},{"x":855.23,"y":2.8e-4},{"x":855.32,"y":2.5e-4},{"x":855.42,"y":2.1e-4},{"x":855.32,"y":1.7e-4},{"x":855.1,"y":1.9e-4},{"x":855.55,"y":2.8e-4},{"x":855.65,"y":3.2e-4},{"x":855.5,"y":2.4e-4},{"x":852.87,"y":2.37e-3}],
"green": [{"x":833.65,"y":7.2e-5},{"x":833.81,"y":7.7e-5},{"x":833.97,"y":8.2e-5},{"x":834.03,"y":9.2e-5},{"x":834.06,"y":1.07e-4},{"x":834.13,"y":1.29e-4},{"x":834.19,"y":1.44e-4},{"x":834.23,"y":1.74e-4},{"x":834.29,"y":1.96e-4},{"x":834.35,"y":2.26e-4},{"x":834.33,"y":2.6e-4},{"x":834.39,"y":2.83e-4},{"x":834.45,"y":3.3e-4},{"x":834.52,"y":3.7e-4},{"x":834.55,"y":4.1e-4},{"x":834.61,"y":4.6e-4},{"x":834.68,"y":5.0e-4},{"x":834.71,"y":5.6e-4},{"x":834.77,"y":6.0e-4},{"x":834.84,"y":6.8e-4},{"x":834.9,"y":7.6e-4},{"x":834.95,"y":8.1e-4},{"x":834.88,"y":7.1e-4},{"x":834.75,"y":5.3e-4},
{"x":835.0,"y":8.9e-4},{"x":835.07,"y":8.7e-4},{"x":835.14,"y":1.17e-3},{"x":835.21,"y":1.12e-3},{"x":835.28,"y":1.15e-3},{"x":835.35,"y":1.57e-3},{"x":835.42,"y":1.64e-3},{"x":835.49,"y":1.66e-3},{"x":835.56,"y":2.15e-3},{"x":835.63,"y":2.02e-3},{"x":835.7,"y":2.32e-3},{"x":835.77,"y":2.18e-3},{"x":835.84,"y":2.81e-3},{"x":835.91,"y":2.63e-3},{"x":835.98,"y":2.94e-3},{"x":836.05,"y":2.63e-3},{"x":836.12,"y":3.41e-3},{"x":836.19,"y":3.18e-3},{"x":836.26,"y":3.44e-3},{"x":836.33,"y":3.08e-3},{"x":836.4,"y":3.62e-3},{"x":836.47,"y":3.22e-3},{"x":836.54,"y":3.91e-3},{"x":836.61,"y":3.46e-3},{"x":836.68,"y":3.2e-3},{"x":836.75,"y":3.94e-3},{"x":836.82,"y":3.7e-3},{"x":836.89,"y":3.46e-3},{"x":836.96,"y":3.95e-3},{"x":837.03,"y":3.6e-3},{"x":837.1,"y":3.81e-3},{"x":837.17,"y":3.3e-3},{"x":837.24,"y":3.93e-3},{"x":837.31,"y":3.43e-3},{"x":837.38,"y":3.6e-3},{"x":837.45,"y":3.05e-3},{"x":837.52,"y":3.77e-3},{"x":837.59,"y":3.34e-3},{"x":837.66,"y":3.48e-3},{"x":837.73,"y":2.99e-3},{"x":837.8,"y":3.38e-3},{"x":837.87,"y":2.9e-3},{"x":837.94,"y":3.41e-3},{"x":838.01,"y":2.93e-3},{"x":838.08,"y":2.65e-3},{"x":838.15,"y":3.19e-3},{"x":838.22,"y":2.94e-3},{"x":838.29,"y":2.7e-3},{"x":838.36,"y":3.21e-3},{"x":838.43,"y":2.75e-3},{"x":838.5,"y":2.88e-3},{"x":838.57,"y":2.48e-3},{"x":838.64,"y":2.95e-3},{"x":838.71,"y":2.57e-3},{"x":838.78,"y":2.69e-3},{"x":838.85,"y":2.29e-3},{"x":838.92,"y":2.83e-3},{"x":838.99,"y":2.52e-3},{"x":839.06,"y":2.65e-3},{"x":839.13,"y":2.29e-3},{"x":839.2,"y":2.63e-3},{"x":839.27,"y":2.27e-3},{"x":839.34,"y":2.68e-3},{"x":839.41,"y":2.32e-3},{"x":839.48,"y":2.1e-3},{"x":839.55,"y":2.54e-3},{"x":839.62,"y":2.34e-3},{"x":839.69,"y":2.14e-3},{"x":839.76,"y":2.54e-3},{"x":839.83,"y":2.16e-3},{"x":839.9,"y":2.27e-3},{"x":839.97,"y":1.94e-3},{"x":840.04,"y":2.3e-3},{"x":840.11,"y":1.99e-3},{"x":840.18,"y":2.08e-3},{"x":840.25,"y":1.77e-3},{"x":840.32,"y":2.18e-3},{"x":840.39,"y":1.94e-3},{"x":840.46,"y":2.03e-3},{"x":840.53,"y":1.76e-3},{"x":840.6,"y":2.0e-3},
{"x":835.035,"y":8.6e-4},{"x":835.105,"y":1.06e-3},{"x":835.175,"y":1.0e-3},{"x":835.245,"y":1.38e-3},{"x":835.315,"y":1.39e-3},{"x":835.385,"y":1.46e-3},{"x":835.455,"y":1.85e-3},{"x":835.525,"y":1.65e-3},{"x":835.595,"y":2.06e-3},{"x":835.665,"y":2.1e-3},{"x":835.735,"y":2.63e-3},{"x":835.805,"y":2.31e-3},{"x":835.875,"y":2.73e-3},{"x":835.945,"y":3.04e-3},{"x":836.015,"y":2.6e-3},{"x":836.085,"y":3.23e-3},{"x":836.155,"y":3.05e-3},{"x":836.225,"y":3.6e-3},{"x":836.295,"y":3.12e-3},{"x":836.365,"y":3.41e-3},{"x":836.435,"y":3.3e-3},{"x":836.505,"y":3.73e-3},{"x":836.575,"y":3.21e-3},{"x":836.645,"y":3.9e-3},{"x":836.715,"y":3.66e-3},{"x":836.785,"y":3.47e-3},{"x":836.855,"y":3.88e-3},{"x":836.925,"y":3.31e-3},{"x":836.995,"y":3.82e-3},{"x":837.065,"y":3.59e-3},{"x":837.135,"y":3.92e-3},{"x":837.205,"y":3.36e-3},{"x":837.275,"y":3.69e-3},{"x":837.345,"y":3.83e-3},{"x":837.415,"y":3.11e-3},{"x":837.485,"y":3.65e-3},{"x":837.555,"y":3.29e-3},{"x":837.625,"y":3.72e-3},{"x":837.695,"y":3.09e-3},{"x":837.765,"y":3.25e-3},{"x":837.835,"y":3.02e-3},{"x":837.905,"y":3.31e-3},{"x":837.975,"y":2.76e-3},{"x":838.045,"y":3.36e-3},{"x":838.115,"y":3.0e-3},{"x":838.185,"y":2.78e-3},{"x":838.255,"y":3.15e-3},{"x":838.325,"y":2.56e-3},{"x":838.395,"y":2.94e-3},{"x":838.465,"y":2.73e-3},{"x":838.535,"y":3.14e-3},{"x":838.605,"y":2.52e-3},{"x":838.675,"y":2.76e-3},{"x":838.745,"y":2.87e-3},{"x":838.815,"y":2.33e-3},{"x":838.885,"y":2.74e-3},{"x":838.955,"y":2.48e-3},{"x":839.025,"y":2.82e-3},{"x":839.095,"y":2.35e-3},{"x":839.165,"y":2.51e-3},{"x":839.235,"y":2.36e-3},{"x":839.305,"y":2.6e-3},{"x":839.375,"y":2.19e-3},{"x":839.445,"y":2.66e-3},{"x":839.515,"y":2.38e-3},{"x":839.585,"y":2.21e-3},{"x":839.655,"y":2.51e-3},{"x":839.725,"y":2.03e-3},{"x":839.795,"y":2.32e-3},{"x":839.865,"y":2.14e-3},{"x":839.935,"y":2.46e-3},{"x":840.005,"y":1.97e-3},{"x":840.075,"y":2.15e-3},{"x":840.145,"y":2.21e-3},{"x":840.215,"y":1.8e-3},{"x":840.285,"y":2.11e-3},{"x":840.355,"y":1.91e-3},{"x":840.425,"y":2.16e-3},{"x":840.495,"y":1.8e-3},{"x":840.565,"y":1.91e-3},
{"x":840.64,"y":2.22e-3},{"x":840.71,"y":1.49e-3},{"x":840.78,"y":1.91e-3},{"x":840.85,"y":1.64e-3},{"x":840.92,"y":2.37e-3},{"x":840.99,"y":1.37e-3},{"x":841.06,"y":2.04e-3},
{"x":841.13,"y":1.61e-3},{"x":841.2,"y":1.98e-3},{"x":841.27,"y":1.44e-3},{"x":841.34,"y":1.68e-3},{"x":841.41,"y":2.27e-3},{"x":841.48,"y":1.31e-3},{"x":841.55,"y":1.81e-3},
{"x":841.62,"y":1.4e-3},{"x":841.69,"y":1.92e-3},{"x":841.76,"y":1.44e-3},{"x":841.83,"y":1.06e-3},{"x":841.9,"y":1.75e-3},{"x":841.97,"y":1.57e-3},{"x":842.04,"y":1.34e-3},
{"x":842.11,"y":1.66e-3},{"x":842.18,"y":1.1e-3},{"x":842.25,"y":1.52e-3},{"x":842.32,"y":1.3e-3},{"x":842.39,"y":1.68e-3},{"x":842.46,"y":1.13e-3},{"x":842.53,"y":1.45e-3},
{"x":842.6,"y":1.14e-3},{"x":842.67,"y":1.65e-3},{"x":842.74,"y":9.5e-4},{"x":842.81,"y":1.42e-3},{"x":842.88,"y":1.22e-3},{"x":842.95,"y":1.5e-3},{"x":843.02,"y":1.09e-3},
{"x":843.09,"y":1.2e-3},{"x":843.16,"y":1.62e-3},{"x":843.23,"y":9.4e-4},{"x":843.3,"y":1.3e-3},{"x":843.37,"y":1.1e-3},{"x":843.44,"y":1.51e-3},{"x":843.51,"y":1.14e-3},
{"x":843.58,"y":8.1e-4},{"x":843.65,"y":1.32e-3},{"x":843.72,"y":1.18e-3},{"x":843.79,"y":1.01e-3},{"x":843.86,"y":1.38e-3},{"x":843.93,"y":9.2e-4},{"x":844.0,"y":1.27e-3},
{"x":844.07,"y":1.09e-3},{"x":844.14,"y":1.42e-3},{"x":844.21,"y":9.5e-4},{"x":844.28,"y":1.22e-3},{"x":844.35,"y":1.04e-3},{"x":844.42,"y":1.51e-3},{"x":844.49,"y":8.7e-4},
{"x":844.56,"y":1.34e-3},{"x":844.63,"y":1.15e-3},{"x":844.7,"y":1.42e-3},{"x":844.77,"y":1.03e-3},{"x":844.84,"y":1.2e-3},{"x":844.91,"y":1.62e-3},{"x":844.98,"y":9.4e-4},
{"x":845.05,"y":1.35e-3},{"x":845.12,"y":1.15e-3},{"x":845.19,"y":1.58e-3},{"x":845.26,"y":1.19e-3},{"x":845.33,"y":8.8e-4},{"x":845.4,"y":1.44e-3},{"x":845.47,"y":1.29e-3},
{"x":845.54,"y":1.14e-3},{"x":845.61,"y":1.56e-3},{"x":845.68,"y":1.04e-3},{"x":845.75,"y":1.43e-3},{"x":845.82,"y":1.22e-3},{"x":845.89,"y":1.59e-3},{"x":845.96,"y":1.07e-3},
{"x":846.03,"y":1.42e-3},{"x":846.1,"y":1.22e-3},{"x":846.17,"y":1.76e-3},{"x":846.24,"y":1.01e-3},{"x":846.31,"y":1.51e-3},{"x":846.38,"y":1.3e-3},{"x":846.45,"y":1.59e-3},
{"x":846.52,"y":1.2e-3},{"x":846.59,"y":1.39e-3},{"x":846.66,"y":1.88e-3},{"x":846.73,"y":1.08e-3},{"x":846.8,"y":1.5e-3},{"x":846.87,"y":1.28e-3},{"x":846.94,"y":1.75e-3},
{"x":847.01,"y":1.35e-3},{"x":847.08,"y":9.9e-4},{"x":847.15,"y":1.63e-3},{"x":847.22,"y":1.46e-3},{"x":847.29,"y":1.25e-3},{"x":847.36,"y":1.7e-3},{"x":847.43,"y":1.14e-3},
{"x":847.5,"y":1.58e-3},{"x":847.57,"y":1.35e-3},{"x":847.64,"y":1.76e-3},{"x":847.71,"y":1.18e-3},{"x":847.78,"y":1.51e-3},{"x":847.85,"y":1.3e-3},{"x":847.92,"y":1.87e-3},
{"x":847.99,"y":1.09e-3},{"x":848.06,"y":1.62e-3},{"x":848.13,"y":1.39e-3},{"x":848.2,"y":1.71e-3},{"x":848.27,"y":1.25e-3},{"x":848.34,"y":1.45e-3},{"x":848.41,"y":1.96e-3},
{"x":848.48,"y":1.13e-3},{"x":848.55,"y":1.57e-3},{"x":848.62,"y":1.33e-3},{"x":848.69,"y":1.83e-3},{"x":848.76,"y":1.38e-3},{"x":848.83,"y":1.02e-3},{"x":848.9,"y":1.67e-3},
{"x":848.97,"y":1.49e-3},{"x":849.04,"y":1.28e-3},{"x":849.11,"y":1.74e-3},{"x":849.18,"y":1.16e-3},{"x":849.25,"y":1.6e-3},{"x":849.32,"y":1.36e-3},{"x":849.39,"y":1.77e-3},
{"x":849.46,"y":1.2e-3},{"x":849.53,"y":1.53e-3},{"x":849.6,"y":1.31e-3},{"x":849.67,"y":1.9e-3},{"x":849.74,"y":1.1e-3},{"x":849.81,"y":1.64e-3},{"x":849.88,"y":1.4e-3},
{"x":849.95,"y":1.77e-3},{"x":850.02,"y":1.29e-3},{"x":850.09,"y":1.5e-3},{"x":850.16,"y":2.03e-3},{"x":850.23,"y":1.17e-3},{"x":850.3,"y":1.62e-3},{"x":850.37,"y":1.38e-3},
{"x":850.44,"y":2.2e-3},{"x":850.51,"y":1.66e-3},{"x":850.58,"y":1.23e-3},{"x":850.65,"y":2.01e-3},{"x":850.72,"y":1.8e-3},{"x":850.79,"y":1.54e-3},{"x":850.86,"y":2.1e-3},
{"x":840.68,"y":2.06e-3},{"x":840.82,"y":1.55e-3},{"x":840.96,"y":2.2e-3},{"x":841.1,"y":1.6e-3},{"x":841.24,"y":1.75e-3},{"x":841.38,"y":1.28e-3},{"x":841.52,"y":1.86e-3},{"x":841.66,"y":1.5e-3},{"x":841.8,"y":1.99e-3},{"x":841.94,"y":1.29e-3},{"x":842.08,"y":1.53e-3},{"x":842.22,"y":1.1e-3},{"x":842.36,"y":1.61e-3},{"x":842.5,"y":1.18e-3},{"x":842.64,"y":1.27e-3},{"x":842.78,"y":1.36e-3},{"x":842.92,"y":1.04e-3},{"x":843.06,"y":1.49e-3},{"x":843.2,"y":1.1e-3},{"x":843.34,"y":1.22e-3},{"x":843.48,"y":9.0e-4},{"x":843.62,"y":1.33e-3},{"x":843.76,"y":1.12e-3},{"x":843.9,"y":1.52e-3},{"x":844.04,"y":1.01e-3},{"x":844.18,"y":1.25e-3},{"x":844.32,"y":9.4e-4},{"x":844.46,"y":1.44e-3},{"x":844.6,"y":1.1e-3},{"x":844.74,"y":1.22e-3},{"x":844.88,"y":1.36e-3},{"x":845.02,"y":1.06e-3},{"x":845.16,"y":1.59e-3},{"x":845.3,"y":1.19e-3},{"x":845.44,"y":1.34e-3},{"x":845.58,"y":1.02e-3},{"x":845.72,"y":1.53e-3},{"x":845.86,"y":1.3e-3},{"x":846.0,"y":1.78e-3},{"x":846.14,"y":1.2e-3},{"x":846.28,"y":1.48e-3},{"x":846.42,"y":1.11e-3},{"x":846.56,"y":1.68e-3},{"x":846.7,"y":1.28e-3},{"x":846.84,"y":1.41e-3},{"x":846.98,"y":1.56e-3},{"x":847.12,"y":1.22e-3},{"x":847.26,"y":1.8e-3},{"x":847.4,"y":1.34e-3},{"x":847.54,"y":1.51e-3},{"x":847.68,"y":1.13e-3},{"x":847.82,"y":1.68e-3},{"x":847.96,"y":1.41e-3},{"x":848.1,"y":1.91e-3},{"x":848.24,"y":1.28e-3},{"x":848.38,"y":1.55e-3},{"x":848.52,"y":1.16e-3},{"x":848.66,"y":1.74e-3},{"x":848.8,"y":1.32e-3},{"x":848.94,"y":1.45e-3},{"x":849.08,"y":1.6e-3},{"x":849.22,"y":1.23e-3},{"x":849.36,"y":1.81e-3},{"x":849.5,"y":1.35e-3},{"x":849.64,"y":1.52e-3},{"x":849.78,"y":1.15e-3},{"x":849.92,"y":1.73e-3},{"x":850.06,"y":1.48e-3},{"x":850.2,"y":2.14e-3},{"x":850.34,"y":1.5e-3},{"x":850.48,"y":1.92e-3},{"x":850.62,"y":1.52e-3},{"x":850.76,"y":2.46e-3},{"x":850.9,"y":2.0e-3},
{"x":842.77,"y":6.5e-4},{"x":843.74,"y":6.4e-4},{"x":843.74,"y":3.6e-4},{"x":845.45,"y":6.1e-4},{"x":847.87,"y":8.0e-4},{"x":848.45,"y":7.4e-4},{"x":848.71,"y":7.1e-4},{"x":849.19,"y":8.1e-4},{"x":850.16,"y":5.5e-4},{"x":849.94,"y":3.5e-4},{"x":849.1,"y":2.3e-4},{"x":841.03,"y":1.19e-3},{"x":841.42,"y":9.7e-4},{"x":841.84,"y":9.6e-4},{"x":842.23,"y":9.0e-4},{"x":842.65,"y":1.12e-3},{"x":843.03,"y":1.0e-3},{"x":839.03,"y":2.1e-3},{"x":840.03,"y":1.66e-3},{"x":840.32,"y":1.5e-3},{"x":838.58,"y":3.2e-3},{"x":837.42,"y":2.8e-3},{"x":837.74,"y":2.8e-3},{"x":836.0,"y":1.33e-3},
{"x":850.75,"y":3.0e-3},{"x":850.85,"y":3.6e-3},{"x":850.95,"y":4.0e-3},{"x":851.03,"y":4.2e-3},{"x":851.1,"y":3.5e-3},{"x":851.15,"y":4.4e-3},{"x":851.23,"y":4.6e-3},{"x":851.3,"y":5.0e-3},{"x":851.38,"y":4.4e-3},{"x":851.45,"y":5.3e-3},{"x":851.5,"y":6.5e-3},{"x":851.55,"y":7.7e-3},{"x":851.6,"y":8.3e-3},{"x":851.65,"y":9.0e-3},{"x":851.68,"y":1.0e-2},{"x":851.72,"y":1.1e-2},{"x":851.77,"y":1.2e-2},{"x":851.8,"y":1.05e-2},{"x":851.84,"y":1.35e-2},{"x":851.87,"y":1.47e-2},{"x":851.9,"y":1.3e-2},{"x":851.95,"y":1.55e-2},{"x":852.0,"y":1.64e-2},{"x":852.03,"y":2.0e-2},{"x":852.06,"y":1.45e-2},{"x":852.1,"y":1.7e-2},{"x":852.15,"y":1.58e-2},{"x":852.2,"y":1.8e-2},{"x":852.25,"y":1.5e-2},{"x":852.28,"y":1.68e-2},{"x":852.32,"y":1.74e-2},{"x":852.36,"y":1.4e-2},{"x":852.4,"y":1.6e-2},{"x":852.45,"y":1.8e-2},{"x":852.5,"y":1.5e-2},{"x":852.52,"y":1.64e-2},{"x":852.55,"y":1.75e-2},{"x":852.58,"y":2.0e-2},{"x":852.62,"y":1.55e-2},{"x":852.66,"y":1.3e-2},{"x":852.7,"y":1.45e-2},{"x":852.74,"y":1.5e-2},{"x":852.8,"y":1.25e-2},{"x":852.85,"y":1.4e-2},{"x":852.9,"y":1.15e-2},{"x":852.97,"y":1.36e-2},{"x":853.0,"y":1.1e-2},{"x":853.06,"y":1.2e-2},{"x":853.1,"y":9.8e-3},{"x":853.16,"y":1.05e-2},{"x":853.22,"y":8.6e-3},{"x":853.29,"y":9.0e-3},{"x":853.33,"y":7.6e-3},{"x":853.39,"y":8.3e-3},{"x":853.44,"y":6.6e-3},{"x":853.48,"y":7.2e-3},{"x":853.55,"y":5.5e-3},{"x":853.61,"y":6.2e-3},{"x":853.66,"y":5.2e-3},{"x":853.71,"y":4.9e-3},{"x":853.76,"y":4.3e-3},{"x":853.81,"y":3.9e-3},{"x":853.88,"y":3.5e-3},{"x":853.94,"y":3.1e-3},{"x":854.02,"y":2.8e-3},{"x":854.1,"y":2.5e-3},{"x":854.15,"y":2.2e-3},{"x":854.19,"y":1.9e-3},{"x":854.28,"y":1.75e-3},{"x":854.35,"y":1.6e-3},{"x":854.45,"y":1.45e-3},{"x":854.52,"y":1.33e-3},{"x":854.6,"y":1.2e-3},{"x":854.68,"y":1.1e-3},{"x":854.78,"y":1.0e-3},{"x":854.9,"y":9.5e-4},{"x":855.0,"y":9.0e-4},{"x":855.1,"y":8.4e-4},
{"x":852.3,"y":9.5e-3},{"x":852.4,"y":7.5e-3},{"x":852.5,"y":1.1e-2},{"x":852.6,"y":8.5e-3},{"x":852.7,"y":6.3e-3},{"x":852.8,"y":9.0e-3},{"x":852.1,"y":8.0e-3},{"x":852.2,"y":1.2e-2},{"x":851.95,"y":9.5e-3},{"x":852.9,"y":7.0e-3},{"x":852.45,"y":5.8e-3},{"x":852.75,"y":5.0e-3},{"x":853.0,"y":6.0e-3},
{"x":854.45,"y":2.16e-3},{"x":854.77,"y":1.33e-3},{"x":855.19,"y":8.7e-4},{"x":855.32,"y":5.4e-4},{"x":855.65,"y":5.0e-4},{"x":855.13,"y":5.2e-4},{"x":855.55,"y":4.0e-4},{"x":855.7,"y":3.6e-4},{"x":854.45,"y":6.9e-4},{"x":854.68,"y":5.0e-4},{"x":854.9,"y":4.1e-4},{"x":855.1,"y":3.3e-4},{"x":855.32,"y":3.1e-4},{"x":855.65,"y":2.6e-4},{"x":855.7,"y":2.0e-4},{"x":855.0,"y":6.5e-4},{"x":854.6,"y":8.5e-4},{"x":855.45,"y":7.0e-4}],
"abs": [{"x":833.71,"y":6.2e-5},{"x":833.84,"y":6.3e-5},{"x":833.97,"y":6.5e-5},{"x":834.06,"y":6.6e-5},{"x":834.16,"y":6.9e-5},{"x":834.23,"y":7.1e-5},{"x":834.32,"y":7.4e-5},{"x":834.39,"y":7.5e-5},{"x":834.45,"y":7.7e-5},{"x":834.52,"y":7.8e-5},{"x":834.61,"y":9.4e-5},{"x":834.68,"y":9.7e-5},{"x":834.77,"y":1.0e-4},{"x":834.87,"y":1.05e-4},{"x":834.94,"y":1.09e-4},{"x":835.0,"y":1.11e-4},{"x":835.1,"y":1.15e-4},{"x":835.19,"y":1.17e-4},{"x":835.26,"y":1.19e-4},{"x":835.35,"y":1.23e-4},{"x":835.42,"y":1.26e-4},{"x":835.52,"y":1.29e-4},{"x":835.58,"y":1.32e-4},{"x":835.68,"y":1.37e-4},{"x":835.74,"y":1.4e-4},{"x":835.84,"y":1.44e-4},{"x":835.9,"y":1.48e-4},{"x":836.0,"y":1.53e-4},{"x":836.06,"y":1.56e-4},{"x":836.16,"y":1.61e-4},{"x":836.23,"y":1.65e-4},{"x":836.32,"y":1.69e-4},{"x":836.39,"y":1.71e-4},{"x":836.48,"y":1.75e-4},{"x":836.55,"y":1.75e-4},{"x":836.65,"y":1.79e-4},{"x":836.71,"y":1.79e-4},{"x":836.81,"y":1.77e-4},{"x":836.87,"y":1.77e-4},{"x":836.97,"y":1.75e-4},{"x":837.03,"y":1.75e-4},{"x":837.13,"y":1.73e-4},{"x":837.19,"y":1.73e-4},{"x":837.29,"y":1.71e-4},{"x":837.35,"y":1.69e-4},{"x":837.45,"y":1.67e-4},{"x":837.52,"y":1.65e-4},{"x":837.65,"y":1.63e-4},{"x":837.74,"y":1.61e-4},{"x":837.84,"y":1.6e-4},{"x":837.94,"y":1.58e-4},{"x":838.03,"y":1.56e-4},{"x":838.16,"y":1.56e-4},{"x":838.26,"y":1.53e-4},{"x":838.39,"y":1.5e-4},{"x":838.48,"y":1.48e-4},{"x":838.55,"y":1.48e-4},{"x":838.65,"y":1.54e-4},{"x":838.71,"y":1.58e-4},{"x":838.81,"y":1.61e-4},{"x":838.9,"y":1.65e-4},{"x":839.0,"y":1.67e-4},{"x":839.13,"y":1.67e-4},{"x":839.23,"y":1.67e-4},{"x":839.35,"y":1.65e-4},{"x":839.45,"y":1.61e-4},{"x":839.55,"y":1.58e-4},{"x":839.68,"y":1.56e-4},{"x":839.77,"y":1.56e-4},{"x":839.87,"y":1.67e-4},{"x":839.97,"y":1.58e-4},{"x":840.1,"y":1.53e-4},{"x":840.19,"y":1.51e-4},{"x":840.32,"y":1.5e-4},{"x":840.42,"y":1.5e-4},{"x":840.52,"y":1.48e-4},{"x":840.61,"y":1.44e-4},{"x":840.74,"y":1.46e-4},{"x":840.84,"y":1.48e-4},{"x":840.94,"y":1.5e-4},{"x":841.03,"y":1.48e-4},{"x":841.13,"y":1.51e-4},{"x":841.23,"y":1.53e-4},{"x":841.35,"y":1.53e-4},{"x":841.45,"y":1.5e-4},{"x":841.55,"y":1.46e-4},{"x":841.68,"y":1.44e-4},{"x":841.77,"y":1.4e-4},{"x":841.87,"y":1.37e-4},{"x":842.0,"y":1.34e-4},{"x":842.1,"y":1.31e-4},{"x":842.19,"y":1.28e-4},{"x":842.32,"y":1.27e-4},{"x":842.42,"y":1.23e-4},{"x":842.52,"y":1.23e-4},{"x":842.65,"y":1.22e-4},{"x":842.74,"y":1.22e-4},{"x":842.81,"y":1.32e-4},{"x":842.9,"y":1.23e-4},{"x":842.97,"y":1.22e-4},{"x":843.06,"y":1.25e-4},{"x":843.16,"y":1.28e-4},{"x":843.26,"y":1.29e-4},{"x":843.35,"y":1.34e-4},{"x":843.45,"y":1.37e-4},{"x":843.52,"y":1.4e-4},{"x":843.61,"y":1.41e-4},{"x":843.71,"y":1.43e-4},{"x":843.84,"y":1.48e-4},{"x":843.94,"y":1.48e-4},{"x":844.03,"y":1.5e-4},{"x":844.16,"y":1.53e-4},{"x":844.26,"y":1.54e-4},{"x":844.35,"y":1.58e-4},{"x":844.42,"y":1.61e-4},{"x":844.52,"y":1.56e-4},{"x":844.61,"y":1.53e-4},{"x":844.71,"y":1.5e-4},{"x":844.81,"y":1.51e-4},{"x":844.94,"y":1.54e-4},{"x":845.03,"y":1.56e-4},{"x":845.13,"y":1.6e-4},{"x":845.26,"y":1.63e-4},{"x":845.35,"y":1.65e-4},{"x":845.45,"y":1.67e-4},{"x":845.58,"y":1.67e-4},{"x":845.68,"y":1.67e-4},{"x":845.77,"y":1.71e-4},{"x":845.87,"y":1.73e-4},{"x":846.0,"y":1.75e-4},{"x":846.1,"y":1.75e-4},{"x":846.19,"y":1.77e-4},{"x":846.32,"y":1.77e-4},{"x":846.42,"y":1.81e-4},{"x":846.52,"y":1.83e-4},{"x":846.65,"y":1.85e-4},{"x":846.74,"y":1.85e-4},{"x":846.84,"y":1.87e-4},{"x":846.97,"y":1.87e-4},{"x":847.06,"y":1.91e-4},{"x":847.16,"y":1.93e-4},{"x":847.29,"y":1.95e-4},{"x":847.39,"y":1.95e-4},{"x":847.48,"y":1.97e-4},{"x":847.61,"y":1.97e-4},{"x":847.71,"y":2.02e-4},{"x":847.81,"y":2.06e-4},{"x":847.94,"y":2.08e-4},{"x":848.03,"y":2.13e-4},{"x":848.13,"y":2.17e-4},{"x":848.23,"y":2.13e-4},{"x":848.32,"y":2.17e-4},{"x":848.45,"y":2.22e-4},{"x":848.55,"y":2.27e-4},{"x":848.65,"y":2.29e-4},{"x":848.74,"y":2.32e-4},{"x":848.87,"y":2.34e-4},{"x":848.97,"y":2.4e-4},{"x":849.1,"y":2.45e-4},{"x":849.19,"y":2.48e-4},{"x":849.29,"y":2.53e-4},{"x":849.42,"y":2.59e-4},{"x":849.52,"y":2.65e-4},{"x":849.61,"y":2.68e-4},{"x":849.74,"y":2.8e-4},{"x":849.84,"y":2.83e-4},{"x":849.94,"y":2.9e-4},{"x":850.06,"y":2.93e-4},{"x":850.16,"y":3.0e-4},{"x":850.26,"y":3.04e-4},{"x":850.39,"y":3.1e-4},{"x":850.48,"y":3.2e-4},{"x":850.58,"y":3.3e-4},{"x":850.71,"y":3.38e-4},{"x":850.81,"y":3.5e-4},{"x":850.9,"y":3.63e-4},{"x":851.0,"y":3.85e-4},{"x":851.06,"y":4.0e-4},{"x":851.13,"y":4.2e-4},{"x":851.19,"y":4.44e-4},{"x":851.26,"y":4.7e-4},{"x":851.29,"y":4.97e-4},{"x":851.35,"y":5.2e-4},{"x":851.39,"y":5.45e-4},{"x":851.45,"y":6.0e-4},{"x":851.52,"y":6.5e-4},{"x":851.58,"y":7.2e-4},
{"x":853.68,"y":7.2e-4},{"x":853.74,"y":6.8e-4},{"x":853.81,"y":6.5e-4},{"x":853.87,"y":6.2e-4},{"x":853.94,"y":5.9e-4},{"x":854.0,"y":5.65e-4},{"x":854.03,"y":5.4e-4},{"x":854.1,"y":5.2e-4},{"x":854.13,"y":4.9e-4},{"x":854.19,"y":4.7e-4},{"x":854.26,"y":4.44e-4},{"x":854.32,"y":4.24e-4},{"x":854.35,"y":4.05e-4},{"x":854.42,"y":3.85e-4},{"x":854.52,"y":3.63e-4},{"x":854.58,"y":3.43e-4},{"x":854.68,"y":3.24e-4},{"x":854.74,"y":3.06e-4},{"x":854.84,"y":2.9e-4},{"x":854.9,"y":2.77e-4},{"x":855.0,"y":2.62e-4},{"x":855.1,"y":2.5e-4},{"x":855.23,"y":2.39e-4},{"x":855.32,"y":2.29e-4},{"x":855.42,"y":2.22e-4},{"x":855.55,"y":2.15e-4},{"x":855.65,"y":2.08e-4},{"x":855.7,"y":1.99e-4}]
},
"layer": [
{"data": {"name": "red"}, "mark": {"type": "point", "shape": "square", "filled": true, "color": "#ff0000", "size": 22, "opacity": 1, "clip": true},
 "encoding": {"x": {"field": "x", "type": "quantitative", "scale": {"domain": [833, 855.73], "nice": false, "zero": false}, "axis": {"orient": "bottom", "values": [837.5, 842.5, 847.5, 852.5], "tickSize": -6, "labels": false, "domain": false, "title": null}},
  "y": {"field": "y", "type": "quantitative", "scale": {"type": "log", "domain": [0.00006, 0.03], "nice": false}, "axis": {"orient": "left", "values": [0.00007, 0.00008, 0.00009, 0.0002, 0.0003, 0.0004, 0.0005, 0.0006, 0.0007, 0.0008, 0.0009, 0.002, 0.003, 0.004, 0.005, 0.006, 0.007, 0.008, 0.009, 0.02], "tickSize": -6, "labels": false, "domain": false, "title": null}}}},
{"data": {"name": "green"}, "mark": {"type": "point", "shape": "circle", "filled": false, "stroke": "#1f9a1f", "strokeWidth": 0.9, "size": 30, "opacity": 1, "clip": true},
 "encoding": {"x": {"field": "x", "type": "quantitative", "scale": {"domain": [833, 855.73], "nice": false, "zero": false}, "axis": {"orient": "top", "values": [835, 840, 845, 850, 855], "tickSize": -10, "labels": false, "title": null}},
  "y": {"field": "y", "type": "quantitative", "scale": {"type": "log", "domain": [0.00006, 0.03], "nice": false}, "axis": {"orient": "right", "values": [0.0001, 0.001, 0.01], "tickSize": -10, "labels": false, "title": null}}}},
{"data": {"name": "blue"}, "mark": {"type": "point", "shape": "square", "filled": true, "color": "#0000ff", "size": 22, "opacity": 1, "clip": true},
 "encoding": {"x": {"field": "x", "type": "quantitative", "scale": {"domain": [833, 855.73], "nice": false, "zero": false}, "axis": {"orient": "bottom", "values": [835, 840, 845, 850, 855], "format": "d", "tickSize": -10, "labelPadding": 20, "title": "Pump Wavelength (nm)", "titlePadding": 22}},
  "y": {"field": "y", "type": "quantitative", "scale": {"type": "log", "domain": [0.00006, 0.03], "nice": false}, "axis": {"orient": "left", "values": [0.0001, 0.001, 0.01], "labelExpr": "'10'", "tickSize": -10, "labelPadding": 36, "title": "Relative Pulse Energy (894 nm)", "titlePadding": 25}}}},
{"data": {"name": "abs"}, "mark": {"type": "point", "shape": "triangle-up", "filled": false, "stroke": "#3a3a3a", "strokeWidth": 0.8, "size": 45, "opacity": 1, "clip": true},
 "encoding": {"x": {"field": "x", "type": "quantitative", "scale": {"domain": [833, 855.73], "nice": false, "zero": false}, "axis": {"orient": "top", "values": [837.5, 842.5, 847.5, 852.5], "tickSize": -6, "labels": false, "domain": false, "title": null}},
  "y": {"field": "y", "type": "quantitative", "scale": {"type": "log", "domain": [0.00006, 0.03], "nice": false}, "axis": {"orient": "right", "values": [0.00007, 0.00008, 0.00009, 0.0002, 0.0003, 0.0004, 0.0005, 0.0006, 0.0007, 0.0008, 0.0009, 0.002, 0.003, 0.004, 0.005, 0.006, 0.007, 0.008, 0.009, 0.02], "tickSize": -6, "labels": false, "domain": false, "title": null}}}},
{"data": {"values": [{"x": 838.74, "y": 0.00674, "x2": 838.0, "y2": 0.00576}, {"x": 837.06, "y": 0.00234, "x2": 837.06, "y2": 0.00297}, {"x": 837.06, "y": 0.00078, "x2": 837.06, "y2": 0.00104}, {"x": 845.5, "y": 0.000114, "x2": 844.94, "y2": 0.000133}]},
 "mark": {"type": "rule", "color": "black", "strokeWidth": 1},
 "encoding": {"x": {"field": "x", "type": "quantitative", "scale": {"domain": [833, 855.73], "nice": false, "zero": false}, "axis": null}, "x2": {"field": "x2"},
  "y": {"field": "y", "type": "quantitative", "scale": {"type": "log", "domain": [0.00006, 0.03], "nice": false}, "axis": null}, "y2": {"field": "y2"}}},
{"data": {"values": [{"x": 837.06, "y": 0.00297}, {"x": 837.06, "y": 0.00104}]},
 "mark": {"type": "point", "shape": "M0,0L0.55,2.2L-0.55,2.2Z", "filled": true, "color": "black", "size": 64, "opacity": 1, "strokeWidth": 0},
 "encoding": {"x": {"field": "x", "type": "quantitative", "scale": {"domain": [833, 855.73], "nice": false, "zero": false}, "axis": null},
  "y": {"field": "y", "type": "quantitative", "scale": {"type": "log", "domain": [0.00006, 0.03], "nice": false}, "axis": null}}},
{"data": {"values": [{"x": 838.0, "y": 0.00576}]},
 "mark": {"type": "point", "shape": "M0,0L0.55,2.2L-0.55,2.2Z", "filled": true, "color": "black", "size": 64, "opacity": 1, "strokeWidth": 0, "angle": 239},
 "encoding": {"x": {"field": "x", "type": "quantitative", "scale": {"domain": [833, 855.73], "nice": false, "zero": false}, "axis": null},
  "y": {"field": "y", "type": "quantitative", "scale": {"type": "log", "domain": [0.00006, 0.03], "nice": false}, "axis": null}}},
{"data": {"values": [{"x": 844.94, "y": 0.000133}]},
 "mark": {"type": "point", "shape": "M0,0L0.55,2.2L-0.55,2.2Z", "filled": true, "color": "black", "size": 64, "opacity": 1, "strokeWidth": 0, "angle": 309},
 "encoding": {"x": {"field": "x", "type": "quantitative", "scale": {"domain": [833, 855.73], "nice": false, "zero": false}, "axis": null},
  "y": {"field": "y", "type": "quantitative", "scale": {"type": "log", "domain": [0.00006, 0.03], "nice": false}, "axis": null}}},
{"data": {"values": [{"x": 838.81, "y": 0.00595, "t": "450 K"}, {"x": 836.23, "y": 0.00178, "t": "434 K"}, {"x": 836.45, "y": 0.000578, "t": "410 K"}, {"x": 845.58, "y": 0.000103, "t": "Absorption (471 K)"}]},
 "mark": {"type": "text", "align": "left", "baseline": "alphabetic", "fontSize": 28, "font": "Liberation Serif", "color": "black"},
 "encoding": {"x": {"field": "x", "type": "quantitative", "scale": {"domain": [833, 855.73], "nice": false, "zero": false}, "axis": null},
  "y": {"field": "y", "type": "quantitative", "scale": {"type": "log", "domain": [0.00006, 0.03], "nice": false}, "axis": null}, "text": {"field": "t"}}},
{"data": {"values": [{"x": 845.77, "y": 0.0155, "t": "Cs-Ar-C"}]},
 "mark": {"type": "text", "align": "right", "baseline": "alphabetic", "fontSize": 33, "fontWeight": "bold", "font": "Liberation Serif", "color": "black"},
 "encoding": {"x": {"field": "x", "type": "quantitative", "scale": {"domain": [833, 855.73], "nice": false, "zero": false}, "axis": null},
  "y": {"field": "y", "type": "quantitative", "scale": {"type": "log", "domain": [0.00006, 0.03], "nice": false}, "axis": null}, "text": {"field": "t"}}},
{"data": {"values": [{"x": 845.77, "y": 0.0155, "t": "2"}]},
 "mark": {"type": "text", "align": "left", "baseline": "alphabetic", "dx": 1, "dy": 8, "fontSize": 19, "fontWeight": "bold", "font": "Liberation Serif", "color": "black"},
 "encoding": {"x": {"field": "x", "type": "quantitative", "scale": {"domain": [833, 855.73], "nice": false, "zero": false}, "axis": null},
  "y": {"field": "y", "type": "quantitative", "scale": {"type": "log", "domain": [0.00006, 0.03], "nice": false}, "axis": null}, "text": {"field": "t"}}},
{"data": {"values": [{"x": 845.77, "y": 0.0155, "t": "H"}]},
 "mark": {"type": "text", "align": "left", "baseline": "alphabetic", "dx": 14, "fontSize": 33, "fontWeight": "bold", "font": "Liberation Serif", "color": "black"},
 "encoding": {"x": {"field": "x", "type": "quantitative", "scale": {"domain": [833, 855.73], "nice": false, "zero": false}, "axis": null},
  "y": {"field": "y", "type": "quantitative", "scale": {"type": "log", "domain": [0.00006, 0.03], "nice": false}, "axis": null}, "text": {"field": "t"}}},
{"data": {"values": [{"x": 845.77, "y": 0.0155, "t": "6"}]},
 "mark": {"type": "text", "align": "left", "baseline": "alphabetic", "dx": 42, "dy": 8, "fontSize": 19, "fontWeight": "bold", "font": "Liberation Serif", "color": "black"},
 "encoding": {"x": {"field": "x", "type": "quantitative", "scale": {"domain": [833, 855.73], "nice": false, "zero": false}, "axis": null},
  "y": {"field": "y", "type": "quantitative", "scale": {"type": "log", "domain": [0.00006, 0.03], "nice": false}, "axis": null}, "text": {"field": "t"}}},
{"data": {"values": [{"y": 0.0001, "e": "-4"}, {"y": 0.001, "e": "-3"}, {"y": 0.01, "e": "-2"}]},
 "mark": {"type": "text", "align": "left", "baseline": "alphabetic", "dx": -26, "dy": 3, "fontSize": 19, "font": "Liberation Serif", "color": "black"},
 "encoding": {"x": {"datum": 833, "type": "quantitative", "scale": {"domain": [833, 855.73], "nice": false, "zero": false}, "axis": null},
  "y": {"field": "y", "type": "quantitative", "scale": {"type": "log", "domain": [0.00006, 0.03], "nice": false}, "axis": null}, "text": {"field": "e"}}}
]
}
